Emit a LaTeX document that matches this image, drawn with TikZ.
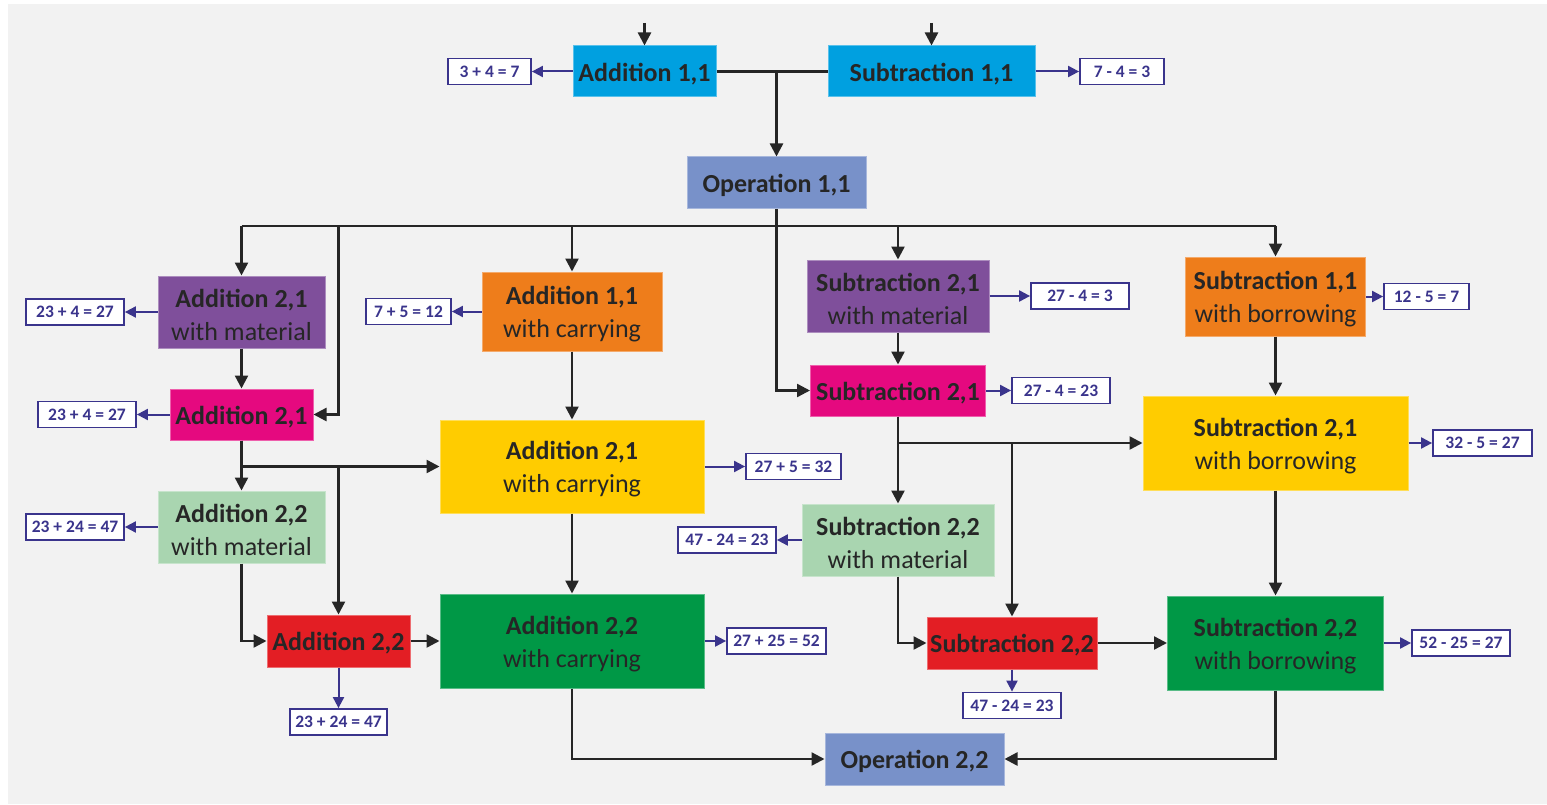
\documentclass[tikz,border=0pt]{standalone}
\usepackage{fontspec}
\setmainfont{Carlito}
\usetikzlibrary{arrows.meta}
\definecolor{bgc}{HTML}{F2F2F2}
\definecolor{txt}{HTML}{262626}
\definecolor{navy}{HTML}{3A348C}
\definecolor{cblue}{HTML}{00A0E0}
\definecolor{cop}{HTML}{7891C9}
\definecolor{cpurple}{HTML}{7F4F9B}
\definecolor{cpink}{HTML}{E5097F}
\definecolor{corange}{HTML}{EE7D1B}
\definecolor{cyellow}{HTML}{FFCC00}
\definecolor{cmint}{HTML}{A9D5B0}
\definecolor{cred}{HTML}{E31E24}
\definecolor{cgreen}{HTML}{009846}
% strut that sets the first line a little lower in its box
\newcommand{\tstrut}{\rule{0pt}{23.5pt}}
\begin{document}
\begin{tikzpicture}[x=1pt,y=-1pt,
  box/.style={fill=#1, draw=#1!65!white, line width=1pt, inner sep=0pt,
    align=center, text=txt, font=\fontsize{26}{33}\selectfont},
  res/.style={fill=white, draw=navy, line width=1.8pt, inner sep=0pt,
    minimum height=26, text=navy, font=\fontsize{17.5}{20}\selectfont\bfseries},
  conn/.style={draw=txt, line width=2.4pt, -{Triangle[length=13pt,width=13pt]}},
  plain/.style={draw=txt, line width=2.4pt},
  lconn/.style={draw=navy, line width=2pt, -{Triangle[length=11pt,width=11pt]}}]
\useasboundingbox (0,0) rectangle (1547,805);
\fill[bgc] (8,4) rectangle (1547,804);

% first level
\node[box=cblue, minimum width=143, minimum height=51] (a11) at (644.5,71.5) {\tstrut\textbf{Addition 1,1}};
\node[box=cblue, minimum width=207, minimum height=51] (s11) at (931.5,71.5) {\tstrut\textbf{Subtraction 1,1}};
\node[box=cop, minimum width=179, minimum height=52] (op11) at (776.5,183) {\tstrut\textbf{Operation 1,1}};

% addition branch
\node[box=cpurple, minimum width=167, minimum height=72] (am21) at (241.5,312) {\tstrut\textbf{Addition 2,1}\\with material};
\node[box=cpink, minimum width=143, minimum height=51] (ap21) at (241.5,414.5) {\tstrut\textbf{Addition 2,1}};
\node[box=corange, minimum width=180, minimum height=79] (ac11) at (572,311.5) {\tstrut\textbf{Addition 1,1}\\with carrying};
\node[box=cyellow, minimum width=264, minimum height=93] (ac21) at (572,466.5) {\tstrut\textbf{Addition 2,1}\\with carrying};
\node[box=cmint, minimum width=167, minimum height=72] (am22) at (241.5,527) {\tstrut\textbf{Addition 2,2}\\with material};
\node[box=cred, minimum width=143, minimum height=52] (ar22) at (338.5,641) {\tstrut\textbf{Addition 2,2}};
\node[box=cgreen, minimum width=264, minimum height=94] (acg22) at (572,641) {\tstrut\textbf{Addition 2,2}\\with carrying};

% subtraction branch
\node[box=cpurple, minimum width=182, minimum height=72] (sm21) at (898,296) {\tstrut\textbf{Subtraction 2,1}\\with material};
\node[box=cpink, minimum width=175, minimum height=51] (sp21) at (898,390.5) {\tstrut\textbf{Subtraction 2,1}};
\node[box=corange, minimum width=180, minimum height=79] (sb11) at (1275.5,296.5) {\tstrut\textbf{Subtraction 1,1}\\with borrowing};
\node[box=cyellow, minimum width=265, minimum height=94] (sy21) at (1275.5,443) {\tstrut\textbf{Subtraction 2,1}\\with borrowing};
\node[box=cmint, minimum width=192, minimum height=72] (smg22) at (898,540) {\tstrut\textbf{Subtraction 2,2}\\with material};
\node[box=cred, minimum width=170, minimum height=52] (sr22) at (1012,643) {\tstrut\textbf{Subtraction 2,2}};
\node[box=cgreen, minimum width=216, minimum height=94] (sg22) at (1275.5,643) {\tstrut\textbf{Subtraction 2,2}\\with borrowing};

\node[box=cop, minimum width=179, minimum height=52] (op22) at (914.5,759) {\tstrut\textbf{Operation 2,2}};

% results
\node[res, minimum width=83] (la11) at (489.5,71.5) {3 + 4 = 7};
\node[res, minimum width=84] (ls11) at (1122,71.5) {7 - 4 = 3};
\node[res, minimum width=98] (lam21) at (75,312) {23 + 4 = 27};
\node[res, minimum width=98] (lap21) at (87,414.5) {23 + 4 = 27};
\node[res, minimum width=85] (lac11) at (408.5,311.5) {7 + 5 = 12};
\node[res, minimum width=95] (lac21) at (793.5,466.5) {27 + 5 = 32};
\node[res, minimum width=98] (lam22) at (75,527) {23 + 24 = 47};
\node[res, minimum width=97] (lar22) at (338.5,722) {23 + 24 = 47};
\node[res, minimum width=99] (lacg22) at (776.5,641) {27 + 25 = 52};
\node[res, minimum width=98] (lsm21) at (1080,296) {27 - 4 = 3};
\node[res, minimum width=98] (lsp21) at (1061,390.5) {27 - 4 = 23};
\node[res, minimum width=85] (lsb11) at (1426.5,296.5) {12 - 5 = 7};
\node[res, minimum width=99] (lsy21) at (1482.5,443) {32 - 5 = 27};
\node[res, minimum width=98] (lsmg22) at (727,540) {47 - 24 = 23};
\node[res, minimum width=98] (lsr22) at (1012,705.5) {47 - 24 = 23};
\node[res, minimum width=98] (lsg22) at (1461,643) {52 - 25 = 27};

% incoming arrows and the bus
\coordinate (inA) at (644.5,23);
\coordinate (inS) at (931.5,23);
\coordinate (bus) at (0,226);
\draw[conn] (inA) -- (a11.north);
\draw[conn] (inS) -- (s11.north);
\draw[plain] (a11.east) -- (s11.west);
\draw[conn] (a11.east -| op11.north) -- (op11.north);
\draw[plain] (op11.south) -- (op11.south |- bus);
\draw[plain] (am21.north |- bus) -- (sb11.north |- bus);
\draw[conn] (am21.north |- bus) -- (am21.north);
\draw[conn] (ac11.north |- bus) -- (ac11.north);
\draw[conn] (sm21.north |- bus) -- (sm21.north);
\draw[conn] (sb11.north |- bus) -- (sb11.north);
\draw[conn] (ar22.north |- bus) |- (ap21.east);
\draw[conn] (op11.south) |- (sp21.west);

% addition flow
\draw[conn] (am21.south) -- (ap21.north);
\draw[conn] (ap21.south) |- (ac21.west);
\draw[conn] (ap21.south) -- (am22.north);
\draw[conn] (ar22.north |- ac21.west) -- (ar22.north);
\draw[conn] (am22.south) |- (ar22.west);
\draw[conn] (ar22.east) -- (acg22.west);
\draw[conn] (ac11.south) -- (ac21.north);
\draw[conn] (ac21.south) -- (acg22.north);
\draw[conn] (acg22.south) |- (op22.west);

% subtraction flow
\draw[conn] (sm21.south) -- (sp21.north);
\draw[conn] (sp21.south) |- (sy21.west);
\draw[conn] (sp21.south) -- (smg22.north);
\draw[conn] (sr22.north |- sy21.west) -- (sr22.north);
\draw[conn] (smg22.south) |- (sr22.west);
\draw[conn] (sr22.east) -- (sg22.west);
\draw[conn] (sb11.south) -- (sy21.north);
\draw[conn] (sy21.south) -- (sg22.north);
\draw[conn] (sg22.south) |- (op22.east);

% result arrows
\draw[lconn] (a11.west) -- (la11.east);
\draw[lconn] (s11.east) -- (ls11.west);
\draw[lconn] (am21.west) -- (lam21.east);
\draw[lconn] (ap21.west) -- (lap21.east);
\draw[lconn] (ac11.west) -- (lac11.east);
\draw[lconn] (ac21.east) -- (lac21.west);
\draw[lconn] (am22.west) -- (lam22.east);
\draw[lconn] (ar22.south) -- (lar22.north);
\draw[lconn] (acg22.east) -- (lacg22.west);
\draw[lconn] (sm21.east) -- (lsm21.west);
\draw[lconn] (sp21.east) -- (lsp21.west);
\draw[lconn] (sb11.east) -- (lsb11.west);
\draw[lconn] (sy21.east) -- (lsy21.west);
\draw[lconn] (smg22.west) -- (lsmg22.east);
\draw[lconn] (sr22.south) -- (lsr22.north);
\draw[lconn] (sg22.east) -- (lsg22.west);
\end{tikzpicture}
\end{document}
